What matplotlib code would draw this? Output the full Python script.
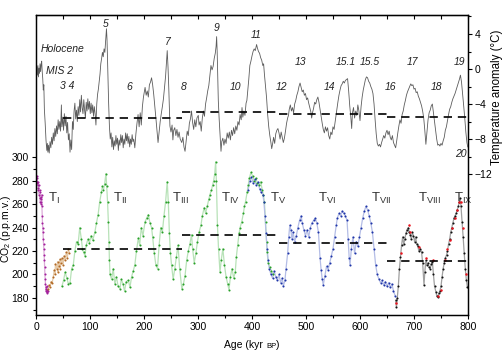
import numpy as np
import matplotlib
matplotlib.use('Agg')
import matplotlib.pyplot as plt
from matplotlib.offsetbox import TextArea, HPacker, AnnotationBbox

plt.rcParams['font.family'] = ['Liberation Sans', 'DejaVu Sans']
plt.rcParams['mathtext.fontset'] = 'custom'
plt.rcParams['mathtext.rm'] = 'Liberation Sans'
plt.rcParams['mathtext.it'] = 'Liberation Sans:italic'

# Temperature anomaly (deg C) vs age (kyr BP)
temp_age = [0.5, 1.5, 2.5, 3.5, 4.5, 5.5, 6.5, 7.5, 8.5, 9.5, 10.5, 11.5, 12.5, 13.5, 14.5,
            15.5, 17, 18.5, 20, 21, 22, 23, 24.5, 26, 27.5, 29, 30.5, 32, 33.5, 35, 36.5,
            38, 39.5, 41, 42.5, 44, 45.5, 47, 48, 49.5, 51, 52.5, 54, 55.5, 57, 58.5, 60,
            61.5, 63, 64.5, 66, 67.5, 69, 70.5, 72, 73.5, 75, 76.5, 78, 79.5, 81, 82.5, 84,
            85.5, 87, 88.5, 90, 91.5, 93, 94.5, 96, 97.5, 99, 100.5, 102, 103.5, 105, 106.5,
            108, 109.5, 111, 112.5, 114, 115.5, 117, 118.5, 120, 121.5, 123, 124.5, 126,
            127.5, 129, 130.5, 131.5, 132.5, 133.5, 134.5, 136, 137.5, 139, 140.5, 142,
            143.5, 145, 146.5, 148, 149.5, 151, 152.5, 154, 155.5, 157, 158.5, 160, 161.5,
            163, 164.5, 166, 167.5, 169, 170.5, 172, 173.5, 175, 176.5, 178, 179.5, 181, 183,
            185, 187, 189, 191, 193, 195, 197, 199, 202, 204, 206, 208, 210, 212, 214, 216,
            218, 220, 222, 224, 226, 228, 230, 232, 234, 236, 238, 240, 241.5, 243, 244.5,
            246, 248, 250, 252, 253.5, 255, 257, 259, 261, 263, 265, 267, 270, 272, 274, 276,
            278, 280, 282, 284, 286, 288, 290, 292, 294, 296, 298, 300.5, 302, 304, 306, 308,
            310, 312, 314, 316, 318, 320, 322, 324, 326, 328, 330, 332, 333.5, 334.5, 335.5,
            336.5, 337.6, 339, 340.5, 342.6, 344, 346, 348, 350, 352, 354, 356, 358, 360, 362,
            364, 366, 368, 370, 372, 374, 376, 378, 380, 381.5, 383, 385, 387, 389, 390.5,
            392, 394, 396, 398, 400, 402, 404, 406, 408.5, 410, 412, 414, 416, 418, 420,
            421.5, 423, 425, 427, 429, 431, 433, 435, 436.5, 438, 440, 442, 444, 446, 448,
            450, 452, 454, 456, 458, 460, 462, 464, 466, 467.5, 469, 471, 473, 475, 477, 479,
            481, 483, 485, 487, 489, 491, 493, 495, 497, 499, 501, 503, 505, 507, 509, 510.5,
            512, 514, 516, 518, 520, 522, 524, 526, 528, 530, 532, 534, 536, 538, 540, 542,
            544, 546, 548, 550, 552, 554, 555.6, 557, 559, 561, 563, 565, 567, 569, 571, 573,
            575, 577, 579, 581, 583, 584.6, 586, 588, 590, 592, 594, 596, 598, 600, 602, 604,
            606, 608, 610, 612, 614, 616, 618, 620, 622, 624, 626, 628, 630, 632, 634, 636,
            638, 640, 642, 644, 646, 648, 650, 652, 654, 656, 658, 660, 662, 664, 666, 668,
            670, 672, 674, 676, 678, 680, 682, 684, 686, 688, 690, 692, 694, 696, 698, 700,
            702, 704, 706, 708, 710, 712, 714, 716, 718, 720, 722, 724, 726, 728, 730, 732,
            734, 736, 738, 740, 742, 744, 746, 748, 750, 752, 754, 756, 758, 760, 762, 764,
            766, 768, 770, 772, 774, 776, 778, 780, 782, 784, 786, 788, 790, 792, 794, 796,
            798, 799.5]
temp_val = [-0.4, 0.3, -0.7, 0.4, -0.9, 0.1, -0.5, 0.6, -0.3, 0.5, 0.9, -0.3, -1.1, -2.4, -1.8,
            -4.6, -6.2, -8.1, -9.3, -8.5, -9.5, -8.7, -9.6, -8.3, -9.0, -7.8, -8.6, -7.3, -8.2,
            -6.8, -7.7, -6.5, -7.4, -5.8, -6.9, -6.0, -7.1, -4.1, -6.6, -5.5, -7.0, -5.1, -6.5,
            -5.4, -7.3, -6.1, -8.1, -7.4, -9.5, -8.1, -9.2, -6.0, -6.9, -4.8, -3.9, -5.7, -4.7,
            -6.0, -4.3, -5.3, -3.5, -4.9, -3.0, -4.4, -5.1, -3.5, -4.7, -5.6, -3.8, -4.8, -3.4,
            -4.6, -3.7, -5.1, -3.9, -5.0, -4.1, -5.4, -4.3, -5.1, -6.4, -4.0, -2.9, -2.3, -1.4,
            -0.6, 0.6, 1.2, 1.9, 1.4, 2.3, 1.9, 3.3, 4.6, 3.4, 1.0, -1.6, -3.9, -6.6, -8.0,
            -7.3, -8.9, -7.8, -9.2, -8.2, -8.8, -7.6, -8.6, -7.9, -9.3, -8.1, -8.7, -7.5, -8.4,
            -7.6, -9.0, -8.0, -8.6, -7.3, -8.2, -7.4, -8.5, -7.7, -8.9, -8.0, -8.6, -7.5, -8.3,
            -8.0, -9.0, -7.4, -6.2, -5.2, -6.6, -5.0, -6.4, -4.3, -3.2, -2.1, -3.0, -2.5, -3.2,
            -1.8, -1.5, -1.0, -1.8, -2.9, -4.2, -5.6, -7.0, -8.4, -7.2, -6.0, -5.1, -4.3, -3.4,
            -2.1, -0.8, 0.6, 2.1, 0.2, -2.4, -6.5, -7.2, -6.4, -8.1, -7.0, -6.7, -7.6, -6.9,
            -7.8, -7.2, -8.0, -8.4, -7.8, -8.9, -9.4, -8.2, -7.1, -7.6, -6.2, -5.7, -4.8, -6.1,
            -6.9, -5.8, -6.6, -5.6, -5.3, -6.4, -6.0, -7.1, -5.6, -4.8, -5.4, -4.0, -3.3, -2.5,
            -1.9, -0.8, 0.4, -0.1, 0.3, 1.2, 1.8, 2.6, 3.7, 2.0, -0.5, -3.6, -5.5, -7.2, -9.4,
            -8.3, -7.9, -8.7, -8.0, -8.5, -7.3, -7.9, -7.2, -8.1, -7.0, -7.6, -6.7, -7.4, -6.5,
            -7.0, -6.0, -6.4, -5.2, -5.8, -4.4, -5.5, -4.8, -5.3, -3.9, -3.6, -2.6, -1.2, 0.4,
            0.9, 1.5, 2.0, 2.3, 2.1, 2.8, 2.4, 2.0, 1.8, 1.3, 1.0, 0.4, 0.6, -0.6, -1.9, -3.3,
            -5.2, -6.6, -7.6, -8.4, -9.1, -8.6, -7.8, -8.5, -7.4, -7.0, -6.8, -7.3, -8.0, -7.2,
            -7.8, -8.4, -7.9, -7.1, -6.2, -5.6, -5.3, -4.6, -4.1, -4.8, -4.4, -5.0, -4.0, -3.6,
            -3.0, -2.6, -2.0, -1.6, -2.1, -2.6, -2.4, -3.0, -2.8, -3.5, -3.3, -3.9, -4.4, -4.9,
            -5.6, -5.0, -4.5, -3.8, -4.0, -3.5, -3.2, -3.8, -4.6, -5.4, -6.2, -6.9, -7.3, -6.6,
            -7.1, -6.7, -7.6, -8.0, -7.2, -7.5, -6.6, -6.9, -6.0, -5.3, -4.6, -3.8, -3.0, -2.4,
            -1.9, -1.7, -1.4, -1.6, -1.3, -1.2, -1.1, -2.5, -4.2, -5.5, -6.8, -5.0, -4.4, -5.6,
            -4.8, -5.3, -4.1, -4.8, -5.9, -4.3, -3.2, -2.4, -1.8, -1.2, -0.9, -1.0, -1.4, -1.6,
            -2.0, -2.3, -2.8, -4.0, -5.8, -7.4, -8.5, -8.8, -8.6, -8.9, -8.4, -8.0, -7.6, -7.9,
            -7.3, -7.0, -7.5, -7.1, -7.8, -8.1, -7.6, -8.4, -8.7, -9.0, -8.2, -7.3, -6.5, -5.8,
            -6.2, -5.2, -4.8, -4.1, -3.6, -3.0, -2.6, -2.3, -2.0, -1.7, -1.9, -1.8, -2.3, -2.2,
            -2.7, -2.6, -3.1, -3.4, -3.8, -4.2, -4.8, -5.6, -7.0, -8.6, -7.2, -5.8, -5.0, -4.7,
            -4.2, -4.0, -5.0, -6.1, -7.0, -8.0, -8.7, -8.6, -8.8, -8.5, -8.7, -8.2, -7.8, -7.0,
            -6.6, -5.9, -5.2, -4.6, -4.3, -3.8, -3.4, -3.1, -2.8, -2.4, -2.0, -1.6, -1.2, -0.7,
            -1.5, -2.8, -4.2, -5.6, -7.2, -8.4, -8.9]

# CO2 (p.p.m.v.) records, one list pair per colour in the figure
co2_magenta_age = [0.5, 1, 1.5, 2, 2.5, 3, 3.5, 4, 4.5, 5, 6, 6.5, 7, 7.5, 8, 8.5, 9, 9.5, 10,
                   10.5, 11, 11.5, 12, 12.5, 13, 13.5, 14, 14.5, 15, 15.5, 16, 16.5, 17, 17.5,
                   18, 18.5, 19, 19.5, 20, 20.5, 21, 22]
co2_magenta = [280, 284, 279, 282, 278, 276, 279, 274, 272, 276, 268, 272, 265, 270, 262, 266,
               260, 264, 262, 268, 258, 250, 244, 240, 236, 230, 226, 222, 217, 212, 206, 200,
               196, 192, 189, 186, 188, 185, 190, 187, 184, 186]

co2_brown_age = [22, 24, 26, 28, 30, 32, 34, 35, 36, 38, 40, 41, 42, 44, 45, 46, 48, 50, 52,
                 54, 56, 58, 60, 62]
co2_brown = [188, 191, 189, 194, 193, 198, 204, 200, 209, 205, 211, 202, 207, 213, 205, 210,
             214, 208, 216, 212, 219, 214, 222, 218]

co2_green_age = [48, 51, 54, 57, 60, 63, 66, 69, 72, 75, 78, 81, 84, 86, 88, 90.7, 93, 96, 99,
                 102, 105, 109, 112, 115, 118, 121, 123, 125, 127, 129.6, 131, 132.5, 134, 135,
                 136, 137, 140, 143, 146, 149, 152, 155.5, 158, 161, 164, 167, 171, 174, 177,
                 180, 183, 186, 189.5, 192, 195, 198, 202, 205, 208, 211, 214, 216, 219, 222,
                 225, 228, 231, 234, 237, 240, 243, 245, 247, 249, 251, 254, 257, 260, 263, 266,
                 270, 273, 276, 279, 282, 285, 288, 290, 293, 296, 299, 302, 305.5, 308, 311.5,
                 314, 317, 320, 322, 325, 327, 329, 331, 332.7, 334, 336, 338, 340.7, 343, 346,
                 349, 352, 355, 357.4, 360, 363, 366, 369, 371, 373.5, 376, 378, 381, 384, 386,
                 388, 391, 393, 395, 398, 401, 404, 407, 410, 413, 416, 419, 421, 423, 425, 427,
                 428, 430, 433, 436, 439]
co2_green = [190, 195, 202, 197, 192, 193, 205, 208, 220, 228, 226, 240, 230, 222, 219, 216,
             225, 230, 227, 233, 229, 236, 244, 251, 262, 270, 275, 272, 277, 286, 275, 262,
             245, 228, 212, 200, 196, 205, 192, 198, 190, 188, 196, 192, 186, 194, 195, 189,
             198, 203, 208, 220, 231, 225, 240, 233, 245, 248, 251, 244, 240, 232, 218, 208,
             205, 225, 240, 236, 250, 262, 279, 262, 235, 218, 208, 196, 205, 215, 225, 205,
             188, 192, 199, 212, 220, 226, 234, 222, 210, 218, 228, 236, 242, 250, 257, 252,
             258, 264, 268, 272, 276, 280, 286, 296, 280, 242, 222, 202, 212, 222, 208, 198,
             192, 187, 198, 205, 197, 202, 215, 225, 235, 240, 245, 252, 258, 262, 270, 276,
             282, 287, 284, 280, 282, 278, 276, 279, 272, 268, 262, 245, 228, 219, 210, 206,
             203, 200]

co2_blue_age = [393, 396, 399, 402, 405, 408, 411, 414, 417, 420, 422, 424, 426, 428, 430, 432,
                435, 438, 441, 444, 447, 450, 453, 456, 458, 461, 463, 466, 468, 470, 472, 474,
                476, 479, 482, 485, 488, 491, 493, 496, 499, 502, 505, 508, 511, 514, 517, 520,
                523, 526, 528, 530, 532, 535, 538, 541, 544, 547, 550, 553, 556, 558, 561, 564,
                567, 570, 573, 576, 578, 580, 581.5, 584, 587, 590, 593, 596, 599, 602, 605, 608,
                611, 614, 617, 620, 623, 626, 629, 632, 635, 638, 641, 644, 647, 650, 653, 656,
                659, 662, 665]
co2_blue = [272, 280, 283, 278, 281, 276, 279, 273, 270, 268, 262, 250, 235, 222, 212, 205, 200,
            197, 203, 198, 195, 200, 193, 197, 190, 195, 205, 218, 232, 242, 238, 230, 236, 228,
            233, 240, 246, 250, 244, 238, 233, 238, 232, 240, 244, 246, 248, 244, 236, 214, 204,
            196, 191, 199, 207, 204, 210, 216, 222, 232, 242, 248, 252, 250, 254, 252, 250, 246,
            230, 214, 208, 222, 232, 218, 228, 224, 232, 240, 248, 254, 258, 255, 250, 244, 236,
            222, 208, 200, 196, 193, 195, 191, 194, 190, 193, 189, 192, 186, 182]

co2_black_age = [666, 667.5, 669, 671, 673, 675, 677, 679, 681, 683, 685, 687, 689.5, 691, 693,
                 695, 697, 699, 701, 703, 705, 707, 709, 712, 714, 716, 718.5, 720, 722, 724,
                 726, 728, 730, 732, 734, 736, 738, 740.7, 742, 744, 746, 748, 750, 752, 754,
                 756, 758, 760.5, 762, 764, 766, 768, 770, 772, 774, 776, 778, 780, 782, 784,
                 785.5, 787, 789, 791, 793, 795, 797, 799]
co2_black = [178, 172, 180, 190, 205, 215, 225, 232, 226, 230, 235, 238, 240, 236, 234, 230,
             236, 233, 228, 232, 226, 224, 220, 222, 219, 210, 191, 202, 212, 208, 210, 206,
             205, 209, 211, 200, 190, 185, 182, 181, 184, 186, 190, 198, 205, 210, 214, 217,
             220, 226, 230, 236, 240, 244, 248, 250, 252, 255, 258, 262, 265, 258, 245, 232,
             218, 205, 195, 189]

co2_red_age = [667, 676, 690, 693, 710, 722, 735, 745, 750, 757, 762, 766, 770, 776, 780, 784,
               787, 791, 796]
co2_red = [176, 218, 242, 236, 223, 214, 212, 182, 187, 212, 222, 229, 240, 248, 255, 262, 262,
           240, 200]

# period means (dashed lines)
mean_start = [50, 270, 450, 650]
mean_end = [270, 450, 650, 800]
co2_means = [221.5, 233.5, 226.5, 211.5]
temp_means = [-5.6, -4.95, -5.15, -5.5]

# labels
mis_labels = ['Holocene', 'MIS 2', '3 4', '5', '6', '7', '8', '9', '10', '11', '12', '13',
              '14', '15.1', '15.5', '16', '17', '18', '19', '20']
mis_age = [9.3, 18.5, 44.4, 129.6, 172, 244.4, 273.5, 334.6, 369.4, 406.8, 455, 490.4,
           543.5, 573, 619, 657, 697, 742, 785, 787]
mis_temp = [2.23, -0.17, -1.95, 5.14, -2.06, 3.05, -2.1, 4.7, -2.1, 3.9, -2.1, 0.82,
            -2.1, 0.82, 0.82, -2.1, 0.82, -2.1, 0.82, -9.7]
term_labels = ['I', 'II', 'III', 'IV', 'V', 'VI', 'VII', 'VIII', 'IX']
term_age = [22.8, 142, 251, 342.6, 433, 521.7, 620, 708, 774.6]

fig = plt.figure(figsize=(5.04, 3.55), dpi=100)
ax = fig.add_axes([36 / 504, 40 / 355, 432 / 504, 300 / 355])
ax2 = ax.twinx()

# CO2 records: faint connecting line plus dots
series = [(co2_magenta_age, co2_magenta, '#a3209c', '#dcaad8'),
          (co2_brown_age, co2_brown, '#b36a26', '#e6caa8'),
          (co2_green_age, co2_green, '#28a028', '#b8e2b8'),
          (co2_blue_age, co2_blue, '#1f35a8', '#b4bde6'),
          (co2_black_age, co2_black, '#111111', '#a0a0a0')]
for ages, vals, dot_c, line_c in series:
    ax.plot(ages, vals, '-', color=line_c, lw=0.9, zorder=1)
    ax.plot(ages, vals, 'o', color=dot_c, ms=1.5, mec='none', zorder=2)
ax.plot(co2_red_age, co2_red, 'o', color='#e8141e', ms=1.8, mec='none', zorder=3)

dash = (0, (5, 3.5))
for s, e, m in zip(mean_start, mean_end, co2_means):
    ax.plot([s, e], [m, m], color='k', lw=1.2, ls=dash, zorder=4)

ax2.plot(temp_age, temp_val, color='#5c5c5c', lw=0.6, zorder=2)
for s, e, m in zip(mean_start, mean_end, temp_means):
    ax2.plot([s, e], [m, m], color='k', lw=1.2, ls=dash, zorder=3)

ax.set_xlim(0, 800)
ax.set_ylim(165.5, 421)
ax2.set_ylim(-28.1, 6.17)

ax.set_xticks(np.arange(0, 801, 100))
ax.set_xticks(np.arange(50, 800, 100), minor=True)
ax.set_yticks(np.arange(180, 301, 20))
ax.set_yticks(np.arange(170, 300, 20), minor=True)
ax.tick_params(which='both', direction='out', length=3, width=0.8, labelsize=7.5, pad=2)
ax.tick_params(which='minor', length=2)
ax2.set_yticks([-12, -8, -4, 0, 4])
ax2.set_yticks([-10, -6, -2, 2, 6], minor=True)
ax2.tick_params(which='both', direction='out', length=3, width=0.8, labelsize=7.5, pad=2)
ax2.tick_params(which='minor', length=2)

secax = ax.secondary_xaxis('top')
secax.set_xticks(np.arange(0, 801, 50))
secax.tick_params(direction='in', length=3, width=0.8, labeltop=False)

for a in (ax, ax2):
    for sp in a.spines.values():
        sp.set_linewidth(0.9)

for lab, a, t in zip(mis_labels, mis_age, mis_temp):
    ha = 'left' if lab in ('Holocene', 'MIS 2', '3 4') else 'center'
    ax2.text(a, t, lab, fontsize=7.5, style='italic', color='#222222',
             ha=ha, va='center', zorder=5)

for lab, a in zip(term_labels, term_age):
    ax.text(a, 262, r'T$_{\mathrm{%s}}$' % lab, fontsize=9.5, color='#333333',
            ha='left', va='baseline', zorder=5)

fig.text(6 / 504, 1 - 229 / 355, r'CO$_2$ (p.p.m.v.)', rotation=90,
         fontsize=7.5, ha='center', va='center')
fig.text(497 / 504, 1 - 97 / 355, 'Temperature anomaly (°C)', rotation=90,
         fontsize=8.3, ha='center', va='center')

xlab = HPacker(children=[TextArea('Age (kyr ', textprops=dict(size=7.5)),
                         TextArea('BP', textprops=dict(size=5.5)),
                         TextArea(')', textprops=dict(size=7.5))],
               align='baseline', pad=0, sep=0)
ab = AnnotationBbox(xlab, (252 / 504, 1 - 345 / 355), xycoords='figure fraction',
                    frameon=False, box_alignment=(0.5, 0.5))
fig.add_artist(ab)

fig.savefig('out.png', dpi=100)
